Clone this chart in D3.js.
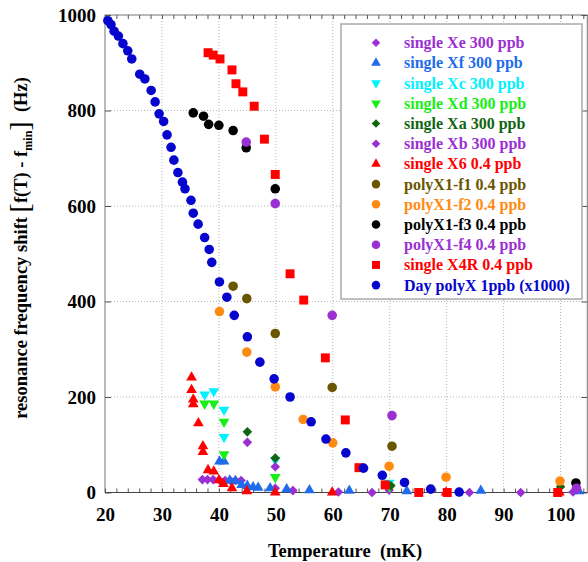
<!DOCTYPE html>
<html><head><meta charset="utf-8">
<script src="https://cdn.jsdelivr.net/npm/d3@7"></script>
<style>
body{margin:0;background:#fff;}
svg{display:block;font-family:"Liberation Serif","Times New Roman",serif;font-weight:bold;}
</style>
</head><body>
<svg id="chart" width="588" height="562"></svg>
<script>
// ---------- data ----------
const seriesNames = [
  "single Xe 300 ppb","single Xf 300 ppb","single Xc 300 ppb","single Xd 300 ppb",
  "single Xa 300 ppb","single Xb 300 ppb","single X6 0.4 ppb","polyX1-f1 0.4 ppb",
  "polyX1-f2 0.4 ppb","polyX1-f3 0.4 ppb","polyX1-f4 0.4 ppb","single X4R 0.4 ppb",
  "Day polyX 1ppb (x1000)"
];
const xeData = [[37.1,27],[38.0,27],[39.0,27],[40.1,26],[41.1,25],[42.1,24],[42.9,25],[43.9,25],[49.9,9],[53.0,4],[61.0,1],[66.9,0],[69.9,5],[84.0,0],[93.0,0],[102.2,1]];
const xfData = [[40.1,65],[40.9,65],[41.9,25],[42.9,24],[44.0,16],[45.0,14],[46.0,11],[46.9,10],[49.0,9],[51.9,7],[55.9,5],[62.9,4],[73.0,3],[86.0,4],[103.2,3]];
const xcData = [[37.5,205],[39.1,212],[40.9,173],[40.9,116],[49.9,68],[69.9,20]];
const xdData = [[37.5,186],[39.1,186],[40.9,148],[40.9,80],[49.9,32],[70.0,12]];
const xaData = [[45.0,127],[49.9,72],[70.2,14],[100.0,12]];
const xbData = [[45.0,105],[49.9,54],[102.8,6]];
const x6Data = [[35.2,241],[35.2,215],[35.5,195],[35.5,185],[36.4,145],[37.2,97],[37.2,85],[38.1,47],[39.1,44],[40.0,26],[40.8,18],[42.3,9],[44.9,3],[49.9,0],[59.9,0],[79.9,0],[99.8,0]];
const f1Data = [[42.5,432],[44.9,406],[49.9,333],[59.9,220],[70.4,97]];
const f2Data = [[40.1,379],[44.9,294],[49.9,221],[54.8,153],[60.0,104],[69.9,55],[79.9,32],[99.9,24]];
const f3Data = [[35.5,795],[37.3,788],[38.2,771],[40.0,769],[42.5,758],[44.8,722],[49.9,636],[102.7,20]];
const f4Data = [[44.8,734],[49.9,605],[59.9,371],[70.4,161],[102.8,9]];
const x4rData = [[38.1,921],[39.0,916],[40.2,908],[42.3,885],[43.0,856],[44.2,839],[46.2,809],[48.0,740],[49.9,666],[52.5,458],[54.9,403],[58.7,282],[62.2,152],[64.6,52],[69.2,16],[75.1,0],[80.1,0],[99.5,0]];
const dayData = [[20.5,988],[21.05,980],[21.6,966],[22.35,956],[23.15,940],[24.0,925],[24.7,908],[26.1,876],[27.0,866],[28.1,842],[28.8,818],[29.5,793],[30.3,777],[30.9,749],[31.6,723],[32.1,696],[32.8,670],[33.6,650],[34.05,636],[35.1,612],[35.5,585],[36.35,562],[37.5,534],[38.3,509],[38.75,482],[40.1,441],[41.4,409],[42.7,371],[45.0,326],[47.2,273],[49.7,238],[52.5,200],[56.2,148],[58.8,112],[62.3,83],[65.4,51],[68.7,36],[72.6,21],[77.2,7],[82.2,1]];
const xTickValues = [20,30,40,50,60,70,80,90,100];
const yTickValues = [0,200,400,600,800,1000];

// ---------- styles ----------
const seriesData = [xeData,xfData,xcData,xdData,xaData,xbData,x6Data,f1Data,f2Data,f3Data,f4Data,x4rData,dayData];
const seriesColors = ["#9b30d2","#1e6ceb","#00f2ff","#18ee18","#116611","#9b30d2","#ff0000","#6b5600","#ff8a12","#000000","#9b30d2","#ff0000","#0505cd"];
const seriesShapes = ["diamond","tri","tridown","tridown","diamond","diamond","tri","circle","circle","circle","circle","square","circle"];

const svg = d3.select("#chart");
const L = 105, T = 15, R = 587.3, B = 492.5;
const x = d3.scaleLinear().domain([20,104.7]).range([L,R]);
const y = d3.scaleLinear().domain([0,1000]).range([B,T]);

function symPath(shape, s){
  const k = s || 1;
  if(shape==="circle") return d3.symbol(d3.symbolCircle, 72*k)();
  if(shape==="square") return d3.symbol(d3.symbolSquare, 80*k)();
  if(shape==="diamond") return d3.symbol(d3.symbolSquare, 46*k)();
  return d3.symbol(d3.symbolTriangle, 50*k)();
}
function symRot(shape){
  if(shape==="diamond") return 45;
  if(shape==="tridown") return 180;
  return 0;
}

// grid
const grid = svg.append("g").attr("stroke","#b8b8b8").attr("stroke-width",1).attr("stroke-dasharray","1,2");
xTickValues.filter(v=>v>20).forEach(v=>{
  grid.append("line").attr("x1",x(v)).attr("x2",x(v)).attr("y1",T).attr("y2",B);
});
yTickValues.filter(v=>v>0 && v<1000).forEach(v=>{
  grid.append("line").attr("x1",L).attr("x2",R).attr("y1",y(v)).attr("y2",y(v));
});

// frame
svg.append("rect").attr("x",L).attr("y",T).attr("width",R-L).attr("height",B-T)
  .attr("fill","none").attr("stroke","#777").attr("stroke-width",1);

// axes with inward ticks
const minorX = d3.range(20,105,2);
const axB = d3.axisTop(x).tickValues(minorX).tickSize(4).tickFormat("");
const axT = d3.axisBottom(x).tickValues(minorX).tickSize(4).tickFormat("");
svg.append("g").attr("transform",`translate(0,${B})`).call(axB).call(g=>{g.select(".domain").remove();g.selectAll("line").attr("stroke","#555");});
svg.append("g").attr("transform",`translate(0,${T})`).call(axT).call(g=>{g.select(".domain").remove();g.selectAll("line").attr("stroke","#555");});
const axL = d3.axisRight(y).tickValues(yTickValues).tickSize(6).tickFormat("");
const axR = d3.axisLeft(y).tickValues(yTickValues).tickSize(6).tickFormat("");
svg.append("g").attr("transform",`translate(${L},0)`).call(axL).call(g=>{g.select(".domain").remove();g.selectAll("line").attr("stroke","#555");});
svg.append("g").attr("transform",`translate(${R},0)`).call(axR).call(g=>{g.select(".domain").remove();g.selectAll("line").attr("stroke","#555");});
svg.append("line").attr("x1",L).attr("x2",R).attr("y1",B).attr("y2",B).attr("stroke","#444");

// tick labels
const xLab = d3.axisBottom(x).tickValues(xTickValues).tickSize(0).tickPadding(0).tickFormat(d3.format("d"));
svg.append("g").attr("transform",`translate(0,${B})`).call(xLab).call(g=>{
  g.select(".domain").remove();
  g.selectAll("text").attr("font-family","Liberation Serif, serif").attr("font-weight","bold")
    .attr("font-size",19).attr("fill","#000").attr("dy",null).attr("y",28);
});
const yLab = d3.axisLeft(y).tickValues(yTickValues).tickSize(0).tickPadding(9).tickFormat(d3.format("d"));
svg.append("g").attr("transform",`translate(${L},0)`).call(yLab).call(g=>{
  g.select(".domain").remove();
  g.selectAll("text").attr("font-family","Liberation Serif, serif").attr("font-weight","bold")
    .attr("font-size",19).attr("fill","#000");
});

// axis titles
svg.append("text").attr("x",345).attr("y",557).attr("text-anchor","middle")
  .attr("font-size",18.5).style("white-space","pre").text("Temperature  (mK)");
const yt = svg.append("text").attr("transform","translate(27,248) rotate(-90)")
  .attr("text-anchor","middle").attr("font-size",18.5).style("white-space","pre");
yt.append("tspan").text("resonance frequency shift ");
yt.append("tspan").attr("font-size",28).attr("font-weight","normal").attr("dy",2).text("[");
yt.append("tspan").attr("dy",-2).text("f(T) - f");
yt.append("tspan").attr("font-size",12).attr("dy",5).text("min");
yt.append("tspan").attr("font-size",28).attr("font-weight","normal").attr("dy",-3).text("]");
yt.append("tspan").attr("dy",-2).text("  (Hz)");

// points
seriesData.forEach((data,i)=>{
  const g = svg.append("g").attr("fill",seriesColors[i]);
  g.selectAll("path").data(data).join("path")
    .attr("d",symPath(seriesShapes[i]))
    .attr("transform",d=>`translate(${x(d[0])},${y(d[1])}) rotate(${symRot(seriesShapes[i])})`);
});

// legend
const lg = svg.append("g");
lg.append("rect").attr("x",341).attr("y",24).attr("width",241).attr("height",275)
  .attr("fill","#fff").attr("stroke","#aaa").attr("stroke-width",1.5);
seriesNames.forEach((n,i)=>{
  const yy = 42.7 + i*20.2;
  lg.append("path").attr("d",symPath(seriesShapes[i],0.8)).attr("fill",seriesColors[i])
    .attr("transform",`translate(376,${yy}) rotate(${symRot(seriesShapes[i])})`);
  lg.append("text").attr("x",404).attr("y",yy+5.5).attr("font-size",16)
    .attr("fill",seriesColors[i]).text(n);
});
</script>
</body></html>
